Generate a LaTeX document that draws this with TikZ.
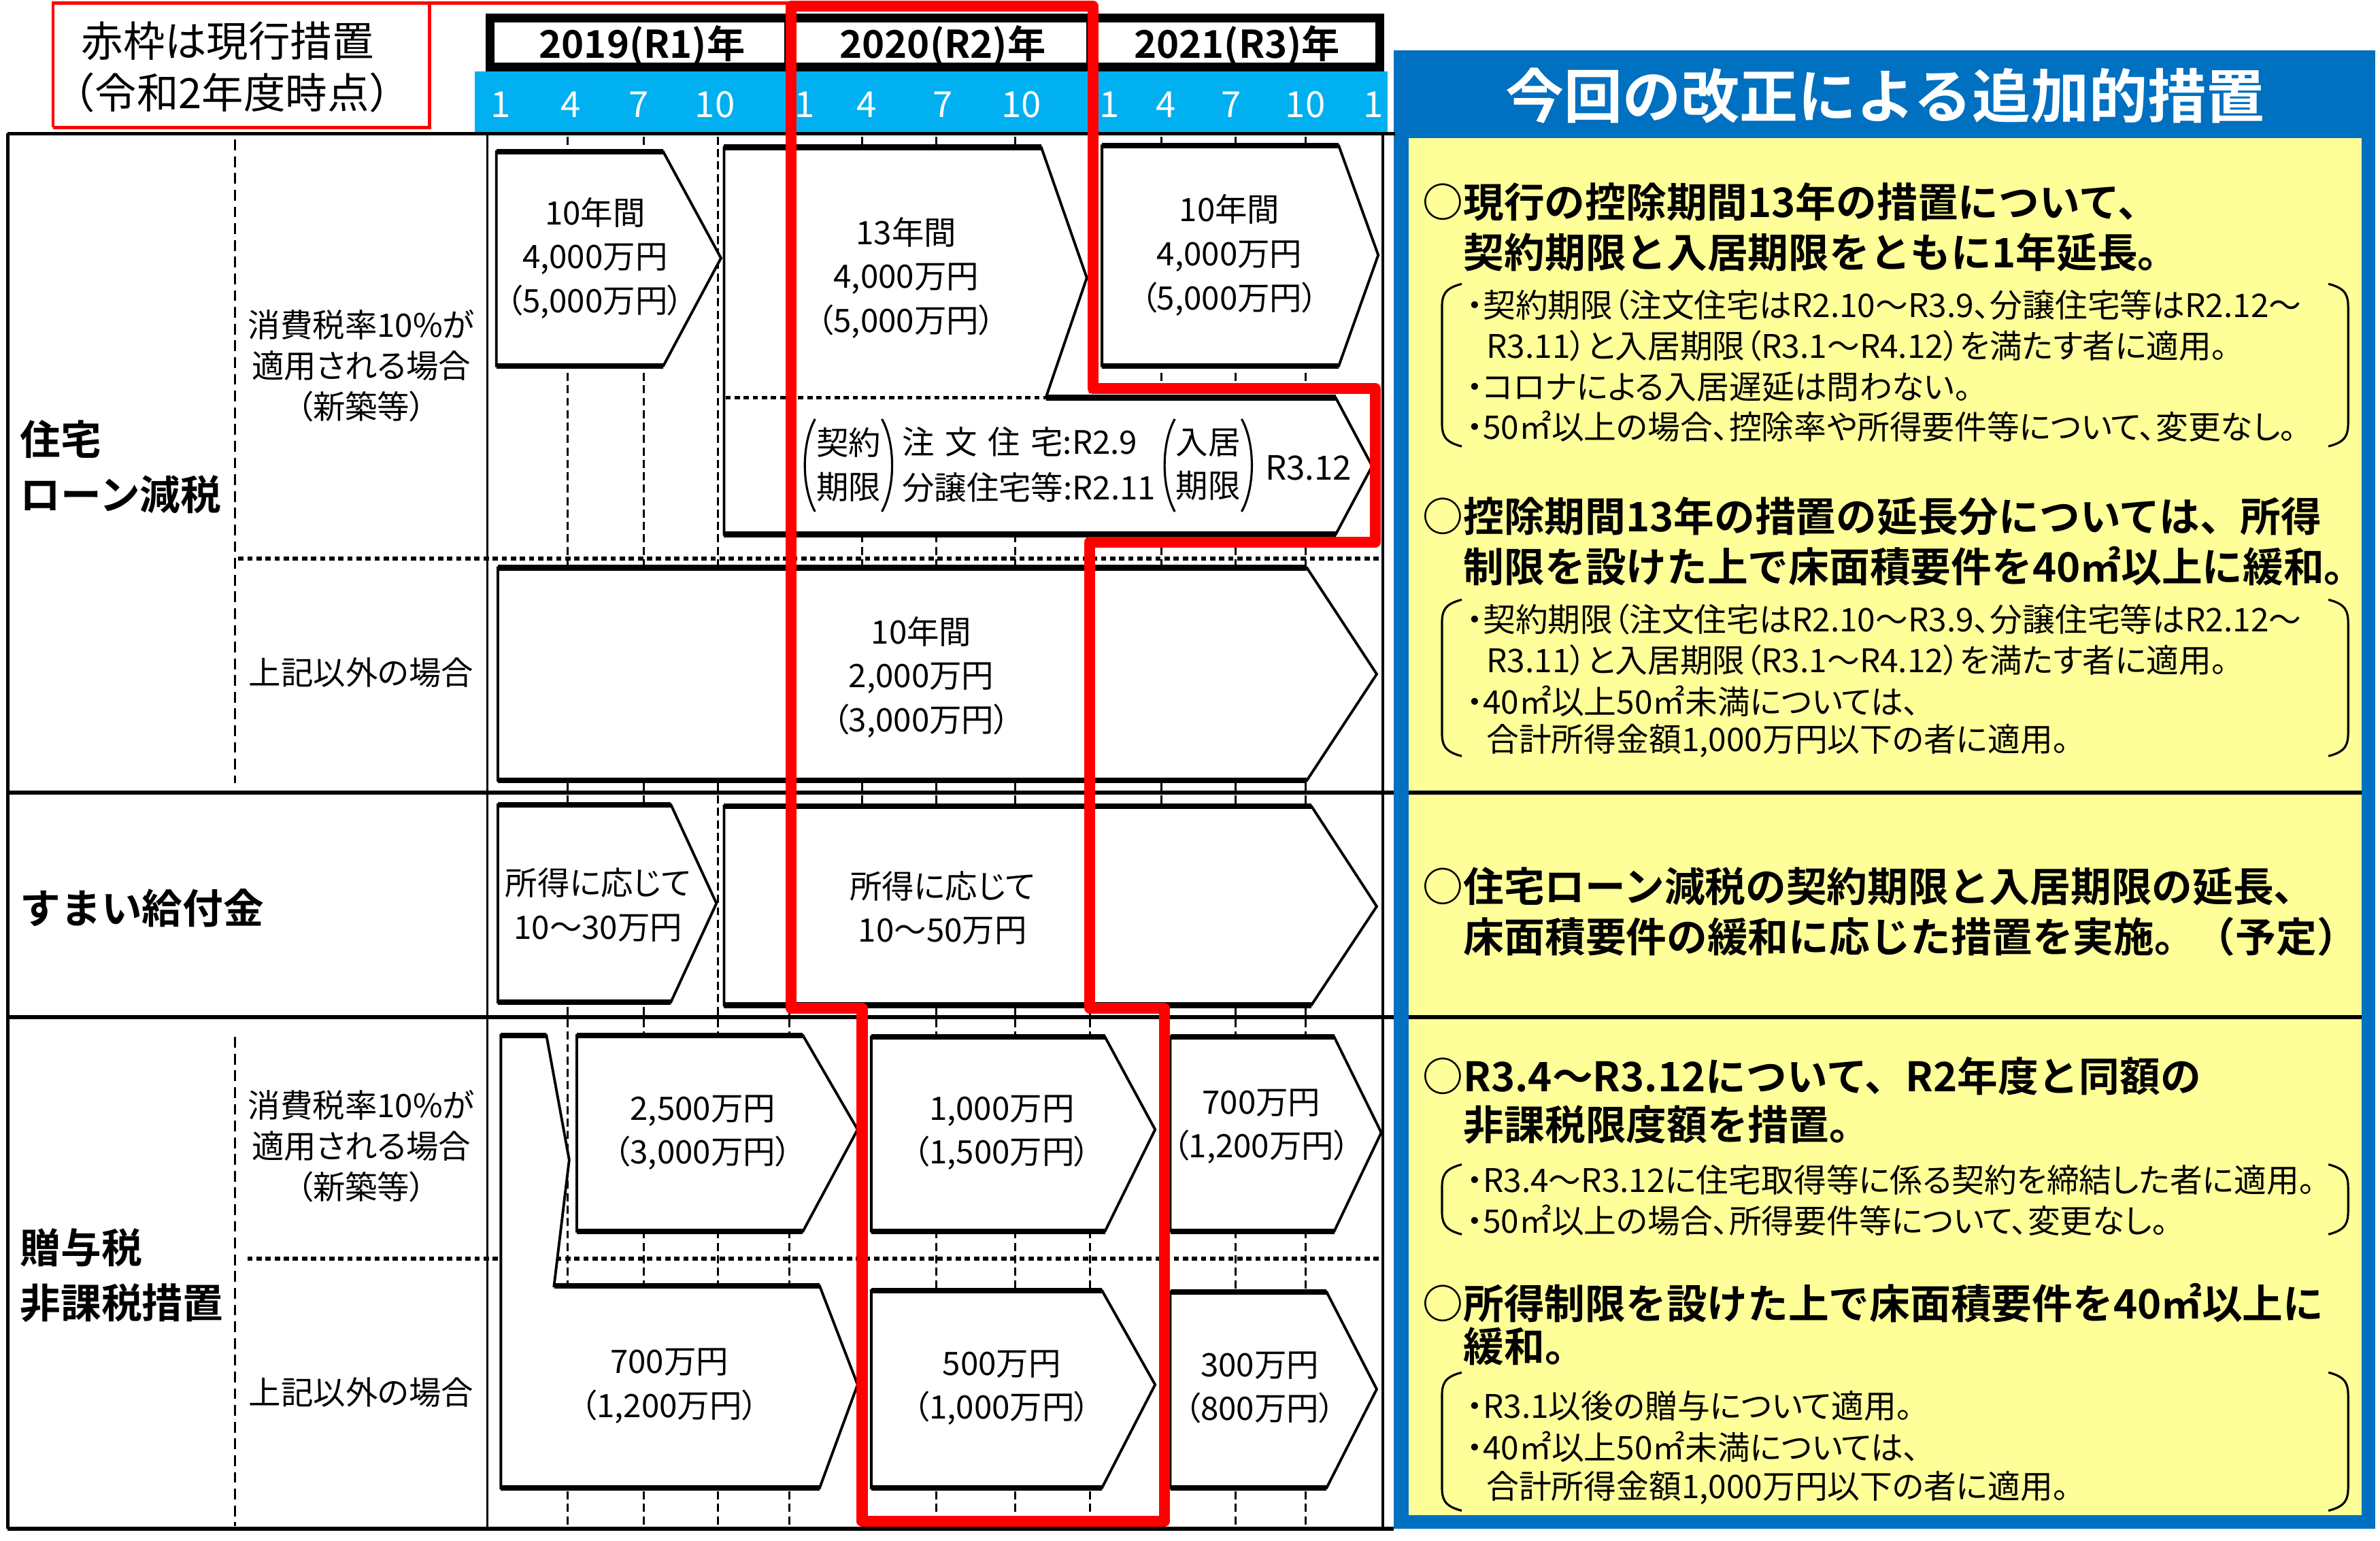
\documentclass[tikz,border=0pt]{standalone}
\usepackage{fontspec}
\newfontfamily\jp{Noto Sans CJK JP}
\newfontfamily\jpp{Noto Sans CJK JP}[RawFeature=+palt]
\newfontfamily\jpb{Noto Sans CJK JP Bold}
\definecolor{bandcyan}{HTML}{00B0F0}
\definecolor{panelblue}{HTML}{0070C0}
\definecolor{panelyellow}{HTML}{FFFF99}
\newcommand\fsz[2]{\fontsize{#1}{#2}\selectfont}
\newcommand\tlarrow[6]{%
  \path[abody] (#1,#2) -- (#3,#2) -- (#4,#5) -- (#3,#6) -- (#1,#6) -- cycle;
  \draw[aedge] (#1,#2) -- (#3,#2);
  \draw[aedge] (#1,#6) -- (#3,#6);
}
\newcommand\panelbracket[2]{%
  \draw[brk] (963,#1) .. controls (951,#1+3) and (950,#1+8) .. (950,#1+16) -- (950,#2-16) .. controls (950,#2-8) and (951,#2-3) .. (963,#2);
  \draw[brk] (1534,#1) .. controls (1546,#1+3) and (1547,#1+8) .. (1547,#1+16) -- (1547,#2-16) .. controls (1547,#2-8) and (1546,#2-3) .. (1534,#2);
}
\begin{document}
\begin{tikzpicture}[x=0.022321cm,y=-0.022321cm,
  abody/.style={draw=black,fill=white,line width=1.1pt,line join=miter},
  aedge/.style={line width=2.4pt},
  tline/.style={line width=1.6pt},
  vline/.style={line width=1pt},
  tick/.style={line width=0.8pt,dash pattern=on 3.4pt off 1.8pt},
  vdashed/.style={line width=0.9pt,dash pattern=on 4.5pt off 2.5pt},
  dotline/.style={line width=1.6pt,dash pattern=on 2.2pt off 1.6pt},
  redframe/.style={draw=red,line width=4.6pt,line join=round},
  redthin/.style={draw=red,line width=1.3pt},
  brk/.style={line width=0.9pt},
  ttext/.style={font=\jpp\fsz{13.5pt}{18.4pt},align=center,inner sep=0pt},
  hd/.style={font=\jpb\fsz{17pt}{20pt},anchor=west,inner sep=0pt},
  sm/.style={font=\jpp\fsz{13.6pt}{17pt},anchor=west,inner sep=0pt},
  lab/.style={font=\jpb\fsz{17pt}{23.2pt},anchor=west,align=left,inner sep=0pt},
  sublab/.style={font=\jpp\fsz{13.5pt}{17.1pt},align=center,inner sep=0pt},
  yr/.style={font=\jpb\fsz{16pt}{18pt},inner sep=0pt},
  mon/.style={font=\jp\fsz{15pt}{17pt},text=white,inner sep=0pt},
  boxtext/.style={font=\jp\fsz{17.5pt}{20pt},inner sep=0pt}]
\useasboundingbox (0,0) rectangle (1568,1014.6);
\fill[white] (0,0) rectangle (1568,1014.6);

% ---------- right panel ----------
\fill[panelblue] (918,33) rectangle (1565,1007);
\fill[panelyellow] (928,91) rectangle (1556,998);
\node[font=\jpb\fsz{24.5pt}{28pt},text=white,inner sep=0pt] (title) at (1242,63) {今回の改正による追加的措置};
\draw[tline] (928,522) -- (1556,522);
\draw[tline] (928,670) -- (1556,670);

% ---------- header ----------
\fill[bandcyan] (313,47) rectangle (914,88);
\draw[line width=3.6pt] (323,12) rectangle (909,44);
\draw[line width=3pt] (519,12) -- (519,44);
\draw[line width=3pt] (718,12) -- (718,44);
\node[yr] (y2019) at (423,30) {2019(R1)年};
\node[yr] (y2020) at (621,30) {2020(R2)年};
\node[yr] (y2021) at (815,30) {2021(R3)年};
\foreach \xx/\mlab [count=\i] in {330/1,376/4,421/7,471/10,530/1,571/4,621/7,673/10,731/1,768/4,811/7,860/10,905/1}
  \node[mon] (mon\i) at (\xx,69) {\mlab};

% red note box
\node[boxtext] (note1) at (150,27) {赤枠は現行措置};
\node[boxtext] (note2) at (153,61) {（令和2年度時点）};

% ---------- table grid ----------
\foreach \xx in {374,424,473,520,568,617,669,718,765,814,860}
  \draw[tick] (\xx,90) -- (\xx,1005);
\draw[vdashed] (155,92) -- (155,516);
\draw[vdashed] (155,683) -- (155,1005);
\draw[dotline] (157,368) -- (911,368);
\draw[dotline] (163,829) -- (911,829);
\draw[tline] (5,88) -- (919,88);
\draw[tline] (5,522) -- (918,522);
\draw[tline] (5,670) -- (918,670);
\draw[tline] (5,1007) -- (918,1007);
\draw[line width=1.4pt] (5,88) -- (5,1007);
\draw[vline] (321,88) -- (321,1007);
\draw[vline] (911,88) -- (911,1007);

% ---------- left labels ----------
\node[lab] (lbl1) at (13,307.5) {住宅\\ローン減税};
\node[lab] (lbl2) at (13,598) {すまい給付金};
\node[lab] (lbl3) at (13,840) {贈与税\\非課税措置};
\node[sublab] (sub1) at (238,241) {消費税率10\%が\\適用される場合\\（新築等）};
\node[sublab] (sub2) at (238,443) {上記以外の場合};
\node[sublab] (sub3) at (238,755) {消費税率10\%が\\適用される場合\\（新築等）};
\node[sublab] (sub4) at (238,917) {上記以外の場合};

% ---------- timeline arrows ----------
% row 1
\tlarrow{327}{100}{437}{475}{170}{241}
\node[ttext] (a1) at (392,170) {10年間\\4,000万円\\（5,000万円）};
\path[abody] (477,97) -- (686,97) -- (716,183) -- (689,262) -- (880,262) -- (904,307) -- (880,352) -- (477,352) -- cycle;
\draw[aedge] (477,97) -- (686,97);
\draw[aedge] (689,262) -- (880,262);
\draw[aedge] (477,352) -- (880,352);
\draw[dotline] (478,262) -- (689,262);
\node[ttext] (a2) at (597,183) {13年間\\4,000万円\\（5,000万円）};
\tlarrow{726}{96}{882}{908}{168}{241}
\node[ttext] (a3) at (810,168) {10年間\\4,000万円\\（5,000万円）};
% contract box contents
\draw[brk] (537,276) .. controls (528,292) and (528,321) .. (537,337);
\draw[brk] (581,276) .. controls (590,292) and (590,321) .. (581,337);
\node[ttext] (kk) at (559,306) {契約\\期限};
\node[font=\jp\fsz{13.5pt}{18pt},anchor=west,inner sep=0pt] (ch1) at (594,291) {注\kern0.33em 文\kern0.33em 住\kern0.33em 宅:R2.9};
\node[font=\jp\fsz{13.5pt}{18pt},anchor=west,inner sep=0pt] (ch2) at (594,321) {分譲住宅等:R2.11};
\draw[brk] (774,276) .. controls (765,292) and (765,321) .. (774,337);
\draw[brk] (818,276) .. controls (827,292) and (827,321) .. (818,337);
\node[ttext] (nk) at (796,306) {入居\\期限};
\node[font=\jp\fsz{14pt}{18pt},inner sep=0pt] (r312) at (862,308) {R3.12};
\tlarrow{328}{374}{861}{907}{444}{514}
\node[ttext] (b1) at (607,446) {10年間\\2,000万円\\（3,000万円）};
% row 2
\tlarrow{328}{530}{442}{472}{595}{660}
\node[ttext] (c1) at (394,596) {所得に応じて\\10～30万円};
\tlarrow{477}{531}{864}{907}{597}{662}
\node[ttext] (c2) at (621,598) {所得に応じて\\10～50万円};
% row 3
\path[abody] (330,682) -- (360,682) -- (375,764) -- (365,847) -- (540,847) -- (565,912) -- (540,980) -- (330,980) -- cycle;
\draw[aedge] (330,682) -- (360,682);
\draw[aedge] (365,847) -- (540,847);
\draw[aedge] (330,980) -- (540,980);
\node[ttext] (d0) at (441,913) {700万円\\（1,200万円）};
\tlarrow{380}{682}{529}{565}{744}{811}
\node[ttext] (d1) at (463,746) {2,500万円\\（3,000万円）};
\tlarrow{574}{683}{728}{761}{744}{811}
\node[ttext] (d2) at (660,746) {1,000万円\\（1,500万円）};
\tlarrow{771}{683}{879}{910}{746}{811}
\node[ttext] (d3) at (831,742) {700万円\\（1,200万円）};
\tlarrow{574}{850}{726}{761}{912}{980}
\node[ttext] (d4) at (660,914) {500万円\\（1,000万円）};
\tlarrow{771}{851}{874}{907}{915}{980}
\node[ttext] (d5) at (830,914) {300万円\\（800万円）};

% ---------- red frames ----------
\draw[redthin] (35,84) -- (35,2) -- (521,2);
\draw[redthin] (35,84) -- (283,84) -- (283,2);
\draw[redframe] (521,4) -- (720,4) -- (720,256) -- (906,256) -- (906,357) -- (718,357) -- (718,664) -- (767,664) -- (767,1002) -- (568,1002) -- (568,664) -- (521,664) -- cycle;

% ---------- right panel texts ----------
\node[hd] (h1a) at (937,133) {○現行の控除期間13年の措置について、};
\node[hd] (h1b) at (964,166) {契約期限と入居期限をともに1年延長。};
\panelbracket{187}{294}
\node[sm] (s1a) at (966,201) {・契約期限（注文住宅はR2.10～R3.9、分譲住宅等はR2.12～};
\node[sm] (s1b) at (979,228) {R3.11）と入居期限（R3.1～R4.12）を満たす者に適用。};
\node[sm] (s1c) at (966,255) {・コロナによる入居遅延は問わない。};
\node[sm] (s1d) at (966,281) {・50㎡以上の場合、控除率や所得要件等について、変更なし。};

\node[hd] (h2a) at (937,340) {○控除期間13年の措置の延長分については、所得};
\node[hd] (h2b) at (964,373) {制限を設けた上で床面積要件を40㎡以上に緩和。};
\panelbracket{395}{498}
\node[sm] (s2a) at (966,408) {・契約期限（注文住宅はR2.10～R3.9、分譲住宅等はR2.12～};
\node[sm] (s2b) at (979,435) {R3.11）と入居期限（R3.1～R4.12）を満たす者に適用。};
\node[sm] (s2c) at (966,462) {・40㎡以上50㎡未満については、};
\node[sm] (s2d) at (979,488) {合計所得金額1,000万円以下の者に適用。};

\node[hd] (h3a) at (937,584) {○住宅ローン減税の契約期限と入居期限の延長、};
\node[hd] (h3b) at (964,617) {床面積要件の緩和に応じた措置を実施。（予定）};

\node[hd] (h4a) at (937,709) {○R3.4～R3.12について、R2年度と同額の};
\node[hd] (h4b) at (964,741) {非課税限度額を措置。};
\panelbracket{767}{813}
\node[sm] (s4a) at (966,777) {・R3.4～R3.12に住宅取得等に係る契約を締結した者に適用。};
\node[sm] (s4b) at (966,804) {・50㎡以上の場合、所得要件等について、変更なし。};

\node[hd] (h5a) at (937,858) {○所得制限を設けた上で床面積要件を40㎡以上に};
\node[hd] (h5b) at (964,887) {緩和。};
\panelbracket{904}{995}
\node[sm] (s5a) at (966,926) {・R3.1以後の贈与について適用。};
\node[sm] (s5b) at (966,953) {・40㎡以上50㎡未満については、};
\node[sm] (s5c) at (979,980) {合計所得金額1,000万円以下の者に適用。};
\end{tikzpicture}
\end{document}
